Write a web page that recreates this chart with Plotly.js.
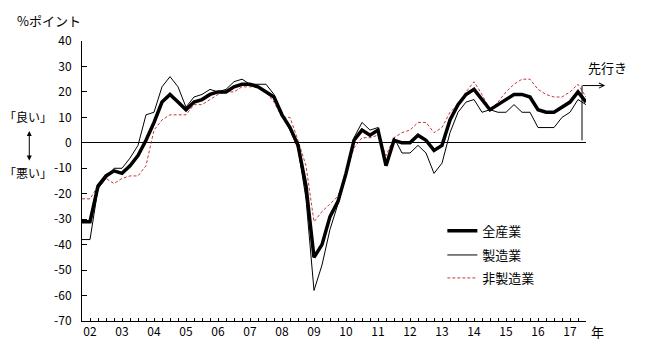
<!DOCTYPE html>
<html><head><meta charset="utf-8">
<script src="https://cdn.plot.ly/plotly-3.0.1.min.js"></script>
<style>html,body{margin:0;padding:0;background:#fff;} #chart{width:647px;height:345px;}</style>
</head><body><div id="chart"></div>
<script>
// Quarterly survey points: Dec 2001 ... Jun 2017, then the forecast (先行き)
const quarters = ["2001/12"];
for (let y = 2002; y <= 2017; y++) {
  for (const m of ["03","06","09","12"]) {
    if (y === 2017 && m === "09") { quarters.push("先行き"); break; }
    quarters.push(y + "/" + m);
  }
}
const allIndustries = [-31,-31,-17,-13, -11,-12,-9,-5, 1,8,16,19, 16,13,16,17,
  19,20,20,22, 23,23,22,20, 18,11,6,-1, -17,-45,-40,-29,
  -23,-12,1,5, 3,5,-9,1, 0,0,3,1, -3,-1,9,15,
  19,21,17,13, 15,17,19,19, 18,13,12,12, 14,16,20,16];
const manufacturing = [-38,-38,-18,-14, -10,-10,-6,-1, 11,12,22,26, 22,14,18,19,
  21,20,21,24, 25,23,23,23, 19,11,5,-2, -22,-58,-48,-34,
  -24,-13,2,8, 5,6,-9,2, -4,-4,-1,-4, -12,-8,4,12,
  16,17,12,13, 12,12,15,12, 12,6,6,6, 10,12,17,15];
const nonManufacturing = [-22,-22,-17,-14, -16,-14,-13,-13, -9,5,9,11, 11,11,15,15,
  17,19,20,20, 22,22,22,20, 16,10,10,1, -9,-31,-27,-24,
  -21,-12,-2,2, 2,3,-5,2, 4,5,8,8, 4,6,12,15,
  20,24,19,13, 16,20,23,25, 25,21,19,18, 18,20,23,18];
const seriesNames = ["全産業", "製造業", "非製造業"];
const yearLabels = ["02","03","04","05","06","07","08","09","10","11","12","13","14","15","16","17"];
const yTickVals = [40,30,20,10,0,-10,-20,-30,-40,-50,-60,-70];

const xIdx = quarters.map((_, i) => i);
const yearTickPos = yearLabels.map(l => quarters.indexOf("20" + l + "/03"));
const forecastIdx = quarters.indexOf("先行き");

const F = '"Noto Sans CJK JP", "Noto Sans", sans-serif';

const traces = [
  {x: xIdx, y: nonManufacturing, name: seriesNames[2], type: 'scatter', mode: 'lines',
   line: {color: '#c8383a', width: 1, dash: '3px,2px'}, legend: 'legend3'},
  {x: xIdx, y: manufacturing, name: seriesNames[1], type: 'scatter', mode: 'lines',
   line: {color: '#000', width: 1}, legend: 'legend2'},
  {x: xIdx, y: allIndustries, name: seriesNames[0], type: 'scatter', mode: 'lines',
   line: {color: '#000', width: 3.5}, legend: 'legend'}
];

const legendBase = {x: 0.715, xanchor: 'left', yanchor: 'middle', bgcolor: 'rgba(0,0,0,0)',
  borderwidth: 0, font: {family: F, size: 13, color: '#000'}};

const layout = {
  width: 647, height: 345,
  margin: {l: 82, r: 61, t: 41, b: 24},
  paper_bgcolor: '#fff', plot_bgcolor: '#fff',
  font: {family: F, size: 12, color: '#000'},
  showlegend: true,
  legend: Object.assign({}, legendBase, {y: 0.3225}),
  legend2: Object.assign({}, legendBase, {y: 0.2357}),
  legend3: Object.assign({}, legendBase, {y: 0.1536}),
  xaxis: {
    range: [0, forecastIdx], showgrid: false, zeroline: false,
    showline: true, linecolor: '#000', linewidth: 1,
    tickmode: 'array', tickvals: yearTickPos, ticktext: yearLabels,
    ticks: 'inside', ticklen: 3, tickcolor: '#000',
    minor: {dtick: 1, tick0: 0, ticks: 'inside', ticklen: 3, tickcolor: '#000', showgrid: false},
    tickfont: {family: F, size: 12}, fixedrange: true
  },
  yaxis: {
    range: [-70, 40], showgrid: false,
    zeroline: true, zerolinecolor: '#000', zerolinewidth: 1,
    showline: true, linecolor: '#000', linewidth: 1,
    tickmode: 'array', tickvals: yTickVals, ticktext: yTickVals.map(String),
    ticks: 'inside', ticklen: 5, tickcolor: '#000', ticklabelstandoff: 7,
    tickfont: {family: F, size: 12}, fixedrange: true
  },
  shapes: [
    {type: 'line', xref: 'x', yref: 'y', x0: forecastIdx - 0.5, x1: forecastIdx - 0.5, y0: 1, y1: 22.5,
     line: {color: '#000', width: 1}}
  ],
  annotations: [
    {text: '%ポイント', xref: 'paper', yref: 'paper', x: -0.1323, y: 1.075, xanchor: 'left', yanchor: 'middle',
     showarrow: false, font: {family: F, size: 13}},
    {text: '「良い」', xref: 'paper', yref: 'paper', x: -0.108, y: 0.7286, xanchor: 'center', yanchor: 'middle',
     showarrow: false, font: {family: F, size: 12}},
    {text: '「悪い」', xref: 'paper', yref: 'paper', x: -0.108, y: 0.5286, xanchor: 'center', yanchor: 'middle',
     showarrow: false, font: {family: F, size: 12}},
    {text: '', xref: 'paper', yref: 'paper', x: -0.1046, y: 0.679, ax: 0, ay: 31,
     showarrow: true, arrowside: 'end+start', arrowhead: 2, arrowsize: 1, arrowwidth: 1, arrowcolor: '#000'},
    {text: '', xref: 'paper', yref: 'y', x: 1.038, y: 22.5, ax: -24, ay: 0,
     showarrow: true, arrowhead: 5, arrowsize: 1, arrowwidth: 1, arrowcolor: '#000'},
    {text: '先行き', xref: 'paper', yref: 'paper', x: 1.0, y: 0.9036, xanchor: 'left', yanchor: 'middle',
     showarrow: false, font: {family: F, size: 13}},
    {text: '年', xref: 'paper', yref: 'paper', x: 1.0224, y: -0.038, xanchor: 'center', yanchor: 'middle',
     showarrow: false, font: {family: F, size: 13}}
  ]
};

Plotly.newPlot('chart', traces, layout, {staticPlot: true, displayModeBar: false});
</script></body></html>
